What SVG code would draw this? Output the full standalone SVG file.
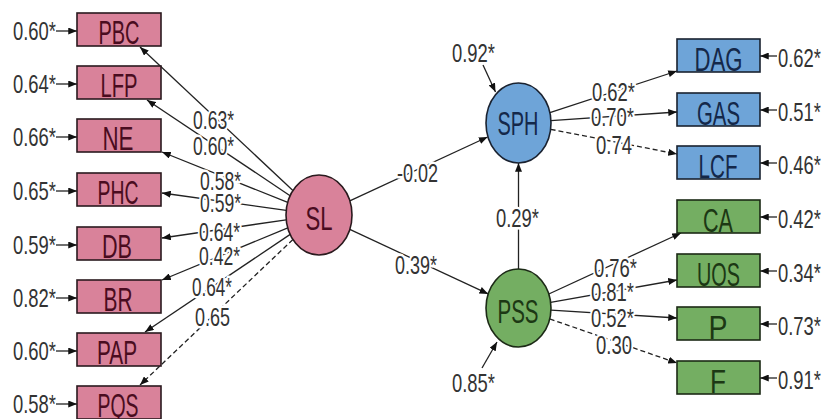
<svg xmlns="http://www.w3.org/2000/svg" width="823" height="419" viewBox="0 0 823 419">
<style>
text{font-family:"Liberation Sans",Arial,sans-serif}
.num{font-size:25px;fill:#333}
.pl{font-size:25px;fill:#333;stroke:#fff;stroke-width:5px;paint-order:stroke;stroke-linejoin:round}
.bx{font-size:33px;text-anchor:middle}
.pk rect,.pk ellipse{fill:#d9829a;stroke:#2a1a1e;stroke-width:1.6}
.pk text{fill:#4a0c20}
.bl rect,.bl ellipse{fill:#6ea4d8;stroke:#1a2230;stroke-width:1.6}
.bl text{fill:#14284a}
.gr rect,.gr ellipse{fill:#74ae62;stroke:#1c2a16;stroke-width:1.6}
.gr text{fill:#1c3814}
.c{stroke:#222;stroke-width:1.3;fill:none;marker-end:url(#ah)}
.d{stroke-dasharray:5 3}
</style>
<defs>
<marker id="ah" viewBox="0 0 10 8" refX="10" refY="4" markerWidth="9" markerHeight="7" markerUnits="userSpaceOnUse" orient="auto"><path d="M0,0 L10,4 L0,8 z" fill="#111"/></marker>
</defs>
<rect width="823" height="419" fill="#fff"/>

<g id="connectors">
<line class="c" x1="56" y1="31" x2="77" y2="31"/>
<line class="c" x1="56" y1="84" x2="77" y2="84"/>
<line class="c" x1="56" y1="137" x2="77" y2="137"/>
<line class="c" x1="56" y1="191" x2="77" y2="191"/>
<line class="c" x1="56" y1="245" x2="77" y2="245"/>
<line class="c" x1="56" y1="298" x2="77" y2="298"/>
<line class="c" x1="56" y1="351" x2="77" y2="351"/>
<line class="c" x1="56" y1="404" x2="77" y2="404"/>

<line class="c" x1="777" y1="56" x2="760" y2="56"/>
<line class="c" x1="777" y1="110" x2="760" y2="110"/>
<line class="c" x1="777" y1="163" x2="760" y2="163"/>
<line class="c" x1="777" y1="217" x2="760" y2="217"/>
<line class="c" x1="777" y1="271" x2="760" y2="271"/>
<line class="c" x1="777" y1="324" x2="760" y2="324"/>
<line class="c" x1="777" y1="378" x2="760" y2="378"/>

<line class="c" x1="292.9" y1="190.5" x2="140" y2="47"/>
<line class="c" x1="290.1" y1="195.7" x2="147" y2="100"/>
<line class="c" x1="287.7" y1="202.4" x2="162" y2="152"/>
<line class="c" x1="286.2" y1="210.4" x2="162" y2="193"/>
<line class="c" x1="286.2" y1="219.8" x2="162" y2="238"/>
<line class="c" x1="287.8" y1="227.9" x2="162" y2="280"/>
<line class="c" x1="290.2" y1="234.4" x2="145" y2="332"/>
<line class="c d" x1="292.9" y1="239.5" x2="140" y2="385"/>

<line class="c" x1="349.8" y1="200.8" x2="487.6" y2="137"/>
<line class="c" x1="349.8" y1="229.4" x2="488.2" y2="293.9"/>
<line class="c" x1="518.5" y1="269" x2="518.5" y2="163"/>
<line class="c" x1="483" y1="65" x2="495.5" y2="92"/>
<line class="c" x1="482" y1="368" x2="497" y2="342"/>

<line class="c" x1="549.9" y1="112.6" x2="677" y2="71"/>
<line class="c" x1="550.9" y1="120.7" x2="677" y2="112"/>
<line class="c d" x1="550.6" y1="129.3" x2="677" y2="154"/>
<line class="c" x1="548.8" y1="294" x2="681" y2="233"/>
<line class="c" x1="550.6" y1="302.3" x2="677" y2="280"/>
<line class="c" x1="551" y1="310.1" x2="677" y2="318"/>
<line class="c d" x1="549.7" y1="318.9" x2="677" y2="363"/>
</g>

<g id="labels">
<text class="num" x="13" y="40" textLength="43" lengthAdjust="spacingAndGlyphs">0.60*</text>
<text class="num" x="13" y="93" textLength="43" lengthAdjust="spacingAndGlyphs">0.64*</text>
<text class="num" x="13" y="146" textLength="43" lengthAdjust="spacingAndGlyphs">0.66*</text>
<text class="num" x="13" y="200" textLength="43" lengthAdjust="spacingAndGlyphs">0.65*</text>
<text class="num" x="13" y="254" textLength="43" lengthAdjust="spacingAndGlyphs">0.59*</text>
<text class="num" x="13" y="307" textLength="43" lengthAdjust="spacingAndGlyphs">0.82*</text>
<text class="num" x="13" y="360" textLength="43" lengthAdjust="spacingAndGlyphs">0.60*</text>
<text class="num" x="13" y="413" textLength="43" lengthAdjust="spacingAndGlyphs">0.58*</text>

<text class="num" x="778" y="67" textLength="43" lengthAdjust="spacingAndGlyphs">0.62*</text>
<text class="num" x="778" y="121" textLength="43" lengthAdjust="spacingAndGlyphs">0.51*</text>
<text class="num" x="778" y="174" textLength="43" lengthAdjust="spacingAndGlyphs">0.46*</text>
<text class="num" x="778" y="228" textLength="43" lengthAdjust="spacingAndGlyphs">0.42*</text>
<text class="num" x="778" y="282" textLength="43" lengthAdjust="spacingAndGlyphs">0.34*</text>
<text class="num" x="778" y="335" textLength="43" lengthAdjust="spacingAndGlyphs">0.73*</text>
<text class="num" x="778" y="389" textLength="43" lengthAdjust="spacingAndGlyphs">0.91*</text>

<text class="pl" x="193" y="129" textLength="41" lengthAdjust="spacingAndGlyphs">0.63*</text>
<text class="pl" x="193" y="155" textLength="41" lengthAdjust="spacingAndGlyphs">0.60*</text>
<text class="pl" x="200" y="190" textLength="41" lengthAdjust="spacingAndGlyphs">0.58*</text>
<text class="pl" x="200" y="212" textLength="41" lengthAdjust="spacingAndGlyphs">0.59*</text>
<text class="pl" x="199" y="241" textLength="41" lengthAdjust="spacingAndGlyphs">0.64*</text>
<text class="pl" x="199" y="265" textLength="41" lengthAdjust="spacingAndGlyphs">0.42*</text>
<text class="pl" x="192" y="296" textLength="40" lengthAdjust="spacingAndGlyphs">0.64*</text>
<text class="pl" x="195" y="326" textLength="35" lengthAdjust="spacingAndGlyphs">0.65</text>

<text class="pl" x="397" y="182" textLength="41" lengthAdjust="spacingAndGlyphs">-0.02</text>
<text class="pl" x="395" y="274" textLength="42" lengthAdjust="spacingAndGlyphs">0.39*</text>
<text class="pl" x="496" y="227" textLength="43" lengthAdjust="spacingAndGlyphs">0.29*</text>
<text class="num" x="452" y="62" textLength="43" lengthAdjust="spacingAndGlyphs">0.92*</text>
<text class="num" x="452" y="392" textLength="43" lengthAdjust="spacingAndGlyphs">0.85*</text>

<text class="pl" x="592" y="101" textLength="43" lengthAdjust="spacingAndGlyphs">0.62*</text>
<text class="pl" x="591" y="126" textLength="43" lengthAdjust="spacingAndGlyphs">0.70*</text>
<text class="pl" x="596" y="154" textLength="36" lengthAdjust="spacingAndGlyphs">0.74</text>
<text class="pl" x="594" y="277" textLength="43" lengthAdjust="spacingAndGlyphs">0.76*</text>
<text class="pl" x="591" y="301" textLength="43" lengthAdjust="spacingAndGlyphs">0.81*</text>
<text class="pl" x="591" y="327" textLength="43" lengthAdjust="spacingAndGlyphs">0.52*</text>
<text class="pl" x="596" y="354" textLength="36" lengthAdjust="spacingAndGlyphs">0.30</text>
</g>

<g id="PBC" class="pk"><rect x="77" y="13" width="84" height="33"/><text class="bx" x="119" y="44" textLength="41" lengthAdjust="spacingAndGlyphs">PBC</text></g>
<g id="LFP" class="pk"><rect x="77" y="66" width="84" height="33"/><text class="bx" x="119" y="97" textLength="37" lengthAdjust="spacingAndGlyphs">LFP</text></g>
<g id="NE" class="pk"><rect x="77" y="119" width="84" height="33"/><text class="bx" x="118" y="150" textLength="31" lengthAdjust="spacingAndGlyphs">NE</text></g>
<g id="PHC" class="pk"><rect x="77" y="173" width="84" height="33"/><text class="bx" x="118" y="204" textLength="41" lengthAdjust="spacingAndGlyphs">PHC</text></g>
<g id="DB" class="pk"><rect x="77" y="227" width="84" height="33"/><text class="bx" x="117" y="258" textLength="30" lengthAdjust="spacingAndGlyphs">DB</text></g>
<g id="BR" class="pk"><rect x="77" y="280" width="84" height="33"/><text class="bx" x="118" y="311" textLength="29" lengthAdjust="spacingAndGlyphs">BR</text></g>
<g id="PAP" class="pk"><rect x="77" y="333" width="84" height="33"/><text class="bx" x="117" y="364" textLength="40" lengthAdjust="spacingAndGlyphs">PAP</text></g>
<g id="PQS" class="pk"><rect x="77" y="386" width="84" height="33"/><text class="bx" x="118" y="417" textLength="41" lengthAdjust="spacingAndGlyphs">PQS</text></g>

<g id="SL" class="pk"><ellipse cx="319" cy="215" rx="33" ry="40"/><text class="bx" x="319" y="230" textLength="27" lengthAdjust="spacingAndGlyphs">SL</text></g>
<g id="SPH" class="bl"><ellipse cx="518.5" cy="123" rx="32.5" ry="40"/><text class="bx" x="518" y="135" textLength="41" lengthAdjust="spacingAndGlyphs">SPH</text></g>
<g id="PSS" class="gr"><ellipse cx="518.5" cy="308" rx="32.5" ry="39"/><text class="bx" x="518" y="323" textLength="41" lengthAdjust="spacingAndGlyphs">PSS</text></g>

<g id="DAG" class="bl"><rect x="677" y="39" width="83" height="33"/><text class="bx" x="718.5" y="70.5" textLength="48" lengthAdjust="spacingAndGlyphs">DAG</text></g>
<g id="GAS" class="bl"><rect x="677" y="93" width="83" height="33"/><text class="bx" x="718.5" y="124.5" textLength="43" lengthAdjust="spacingAndGlyphs">GAS</text></g>
<g id="LCF" class="bl"><rect x="677" y="146" width="83" height="33"/><text class="bx" x="718" y="177.5" textLength="39" lengthAdjust="spacingAndGlyphs">LCF</text></g>
<g id="CA" class="gr"><rect x="677" y="200" width="83" height="33"/><text class="bx" x="718" y="231.5" textLength="30" lengthAdjust="spacingAndGlyphs">CA</text></g>
<g id="UOS" class="gr"><rect x="677" y="254" width="83" height="33"/><text class="bx" x="718.5" y="285.5" textLength="43" lengthAdjust="spacingAndGlyphs">UOS</text></g>
<g id="P" class="gr"><rect x="677" y="307" width="83" height="33"/><text class="bx" x="718" y="338.5" textLength="19" lengthAdjust="spacingAndGlyphs">P</text></g>
<g id="F" class="gr"><rect x="677" y="361" width="83" height="33"/><text class="bx" x="718" y="392.5" textLength="16" lengthAdjust="spacingAndGlyphs">F</text></g>
</svg>
